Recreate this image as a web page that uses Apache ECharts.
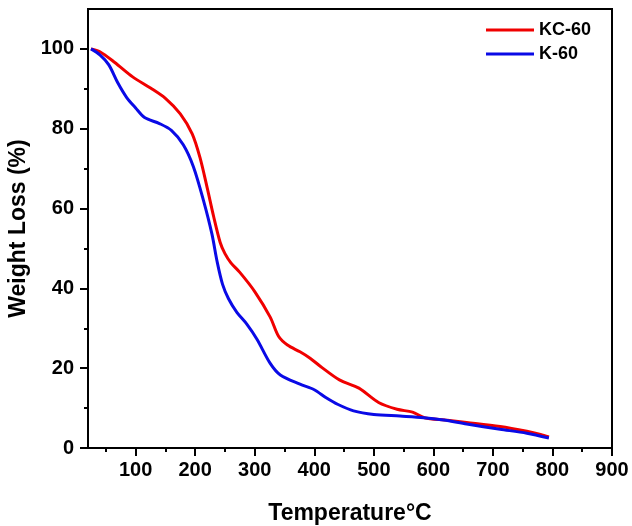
<!DOCTYPE html>
<html>
<head>
<meta charset="utf-8">
<script src="https://cdn.jsdelivr.net/npm/echarts@6/dist/echarts.min.js"></script>
<style>
html,body{margin:0;padding:0;background:#fff;}
#chart{width:632px;height:526px;}
</style>
</head>
<body>
<div id="chart"></div>
<script>
// KC-60 (red)
const kcTemp = [25, 40, 65, 95, 125, 150, 175, 195, 208, 220, 231, 242, 250, 260, 275, 300, 326, 340, 355, 376, 393, 410, 443, 475, 508, 539, 565, 585, 620, 656, 712, 757, 780, 794];
const kcWeight = [100, 99.3, 96.6, 93, 90.2, 87.6, 83.7, 78.7, 72.8, 65.3, 58, 51.5, 48.7, 46.4, 44, 39.2, 32.8, 28, 25.8, 24.1, 22.5, 20.5, 17, 15, 11.4, 9.7, 9.0, 7.6, 7.0, 6.4, 5.4, 4.2, 3.4, 2.75];
// K-60 (blue)
const kTemp = [25, 40, 55, 70, 85, 100, 115, 140, 160, 180, 197, 214, 228, 237, 246, 256, 270, 287, 304, 326, 343, 376, 400, 420, 440, 466, 500, 544, 584, 617, 656, 712, 757, 794];
const kWeight = [100, 98.5, 96, 91.5, 87.8, 85.2, 82.8, 81.3, 79.6, 76, 70.5, 62, 53.7, 46.6, 41, 37.4, 34, 31, 27.2, 21.2, 18.3, 16, 14.6, 12.6, 10.9, 9.3, 8.4, 8, 7.6, 7, 6, 4.7, 3.7, 2.5];

const xMajorTicks = [100, 200, 300, 400, 500, 600, 700, 800, 900];
const xMinorTicks = [50, 150, 250, 350, 450, 550, 650, 750, 850];
const yMajorTicks = [0, 20, 40, 60, 80, 100];
const yMinorTicks = [10, 30, 50, 70, 90];

const seriesNames = ['KC-60', 'K-60'];

const zip = (a, b) => a.map((v, i) => [v, b[i]]);
const font = 'Liberation Sans, Arial, sans-serif';

const chart = echarts.init(document.getElementById('chart'), null, {renderer: 'canvas'});
chart.setOption({
  backgroundColor: '#fff',
  animation: false,
  grid: {left: 88, top: 9, right: 20, bottom: 78, show: true, borderColor: '#000', borderWidth: 2, backgroundColor: 'transparent', outerBoundsMode: 'none', containLabel: false},
  legend: {
    data: seriesNames,
    orient: 'vertical',
    left: 486, top: 20,
    padding: 0,
    icon: 'rect',
    itemWidth: 48, itemHeight: 3, itemGap: 4,
    textStyle: {fontFamily: font, fontWeight: 'bold', fontSize: 18, color: '#000', lineHeight: 20}
  },
  xAxis: [{
    type: 'value', min: 20, max: 900, position: 'bottom',
    name: 'Temperature°C', nameLocation: 'middle', nameGap: 54,
    nameTextStyle: {fontFamily: font, fontWeight: 'bold', fontSize: 23, color: '#000'},
    axisLine: {show: true, onZero: false, lineStyle: {color: '#000', width: 2}},
    axisTick: {show: true, customValues: xMajorTicks, length: 8, lineStyle: {color: '#000', width: 2}},
    axisLabel: {customValues: xMajorTicks, margin: 12, fontFamily: font, fontWeight: 'bold', fontSize: 20, color: '#000'},
    splitLine: {show: false}
  }, {
    type: 'value', min: 20, max: 900, position: 'bottom',
    axisLine: {show: false},
    axisTick: {show: true, customValues: xMinorTicks, length: 4, lineStyle: {color: '#000', width: 2}},
    axisLabel: {show: false},
    splitLine: {show: false}
  }],
  yAxis: [{
    type: 'value', min: 0, max: 110, position: 'left',
    name: 'Weight Loss (%)', nameLocation: 'middle', nameGap: 47,
    nameTextStyle: {fontFamily: font, fontWeight: 'bold', fontSize: 23, color: '#000'},
    axisLine: {show: true, onZero: false, lineStyle: {color: '#000', width: 2}},
    axisTick: {show: true, customValues: yMajorTicks, length: 8, lineStyle: {color: '#000', width: 2}},
    axisLabel: {customValues: yMajorTicks, margin: 14, fontFamily: font, fontWeight: 'bold', fontSize: 20, color: '#000'},
    splitLine: {show: false}
  }, {
    type: 'value', min: 0, max: 110, position: 'left',
    axisLine: {show: false},
    axisTick: {show: true, customValues: yMinorTicks, length: 4, lineStyle: {color: '#000', width: 2}},
    axisLabel: {show: false},
    splitLine: {show: false}
  }],
  series: [{
    name: seriesNames[0], type: 'line', xAxisIndex: 0, yAxisIndex: 0,
    data: zip(kcTemp, kcWeight), smooth: 0.3, showSymbol: false, symbol: 'none',
    lineStyle: {color: '#f00000', width: 3}, itemStyle: {color: '#f00000'}, z: 2
  }, {
    name: seriesNames[1], type: 'line', xAxisIndex: 0, yAxisIndex: 0,
    data: zip(kTemp, kWeight), smooth: 0.3, showSymbol: false, symbol: 'none',
    lineStyle: {color: '#0a0ae6', width: 3}, itemStyle: {color: '#0a0ae6'}, z: 3
  }]
});
</script>
</body>
</html>
